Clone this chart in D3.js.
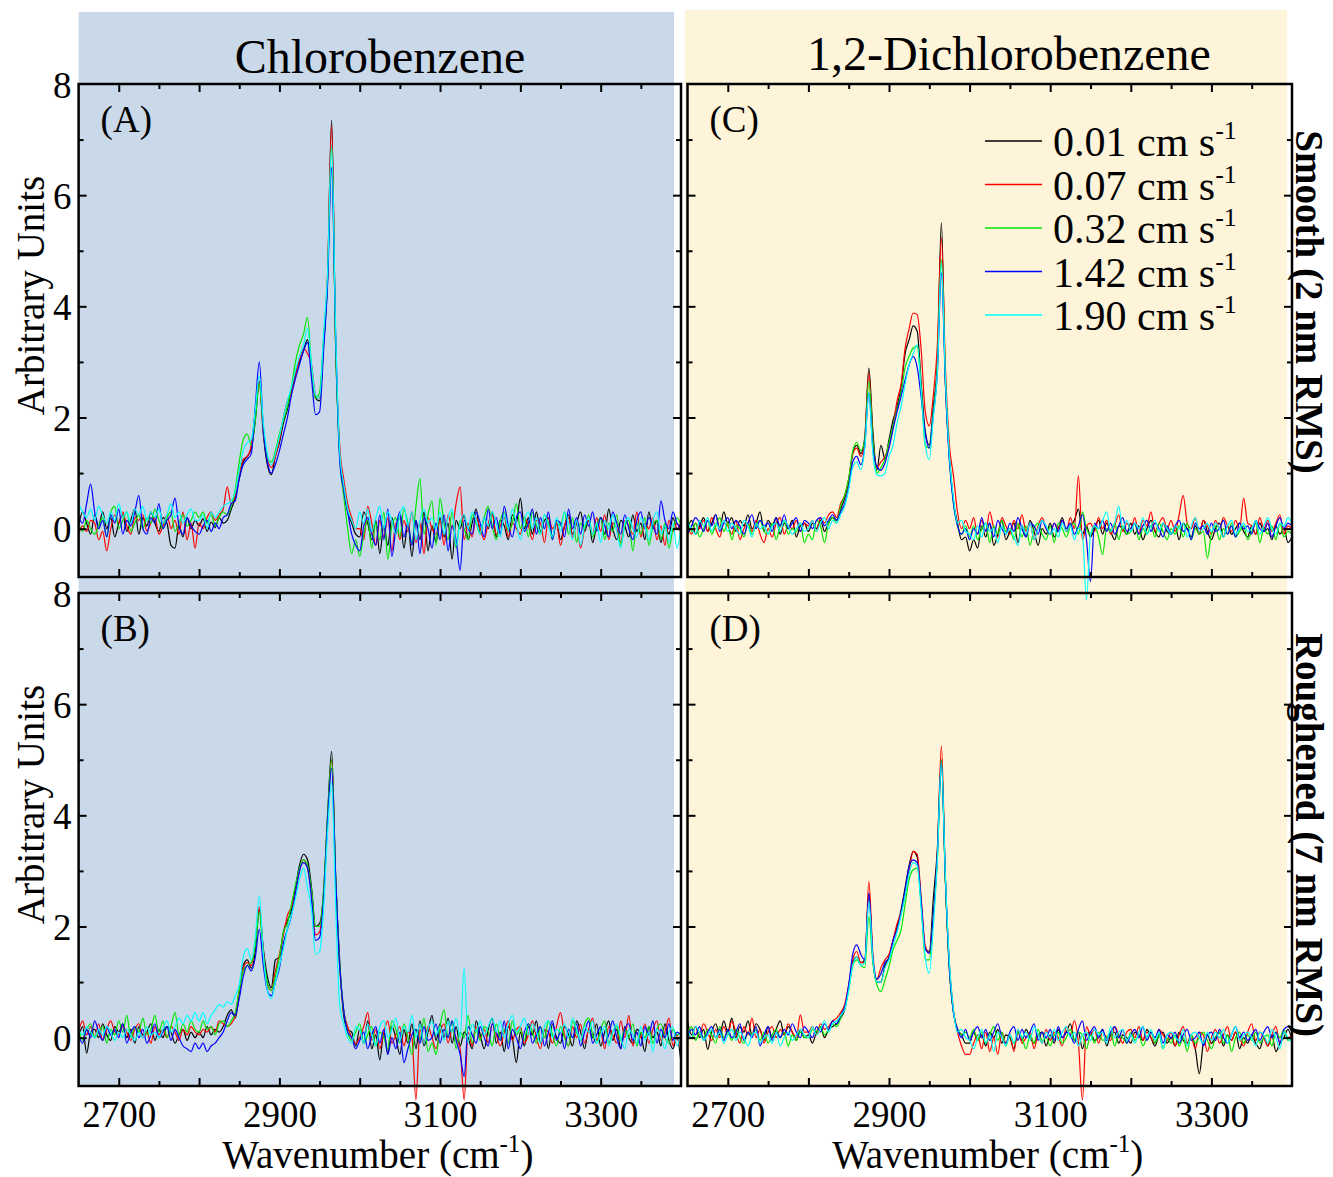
<!DOCTYPE html>
<html>
<head>
<meta charset="utf-8">
<script src="https://cdn.jsdelivr.net/npm/d3@7"></script>
<style>
  body { margin: 0; background: #fff; }
  svg { display: block; }
  text { font-family: "Liberation Serif", "Times New Roman", serif; fill: #000; }
</style>
</head>
<body>
<svg id="fig" width="1333" height="1177"></svg>
<script>
// Sampling grid of the spectra (cm^-1)
const wavenumber = d3.range(2650, 3400.1, 5);

const speedLabels = ["0.01", "0.07", "0.32", "1.42", "1.90"];
const seriesColors = ["#000000", "#ff0000", "#00e600", "#0000ff", "#00ffff"];
const xTickLabels = [2700, 2900, 3100, 3300];
const yTickLabels = [0, 2, 4, 6, 8];
const molecules = ["Chlorobenzene", "1,2-Dichlorobenzene"];
const surfaces = ["Smooth (2 nm RMS)", "Roughened (7 nm RMS)"];
const panelLetters = ["(A)", "(B)", "(C)", "(D)"];

// ---- Chlorobenzene, smooth surface (A) ----
const A_001 = [0.05,0.3,0.1,-0.1,0.25,0.05,0.3,0.0,0.2,-0.15,
0.1,0.25,-0.05,0.15,0.35,-0.1,0.2,0.05,0.3,0.1,
-0.05,0.2,0.1,-0.3,-0.35,0.05,-0.15,0.2,0.0,0.15,
0.05,0.18,-0.05,0.12,0.02,0.2,0.1,0.15,0.35,0.55,
0.9,1.2,1.3,1.45,1.95,2.65,1.7,1.15,0.97,1.3,
1.55,1.9,2.15,2.5,2.8,3.0,3.2,3.4,2.85,2.35,
2.3,3.3,4.5,7.35,3.3,1.4,0.7,0.3,0.1,-0.1,
-0.15,0.3,0.1,-0.2,0.15,-0.45,0.05,-0.3,0.2,-0.1,
0.25,-0.35,0.1,-0.5,0.15,-0.2,0.3,-0.4,0.05,-0.25,
0.2,-0.15,0.1,-0.55,0.15,0.0,0.25,-0.2,0.1,0.35,
-0.1,0.2,0.0,0.3,-0.15,0.15,0.05,-0.2,0.25,0.1,
0.55,0.0,0.2,-0.1,0.3,-0.05,0.15,0.2,-0.15,0.1,
-0.2,0.05,0.25,-0.1,0.1,0.3,-0.05,0.15,-0.25,0.05,
0.2,-0.1,0.35,0.0,-0.2,0.15,0.05,-0.15,0.25,-0.05,
0.1,-0.2,0.3,0.0,0.15,-0.25,0.05,-0.1,0.2,0.0,
0.1];
const A_007 = [-0.1,0.05,-0.05,0.15,0.1,-0.2,-0.05,-0.4,0.0,0.25,
0.1,0.3,0.05,-0.1,0.2,0.15,0.25,-0.05,0.1,0.2,
-0.1,0.05,0.25,0.0,0.15,-0.1,0.3,-0.2,0.1,-0.35,
0.1,0.0,0.2,0.3,0.15,0.25,0.35,0.75,0.45,0.6,
1.0,1.25,1.3,1.5,2.1,2.6,1.75,1.25,1.1,1.3,
1.6,2.0,2.3,2.45,2.75,3.05,3.25,3.15,2.95,2.4,
2.35,3.4,4.6,7.25,3.4,1.5,0.9,0.45,0.2,0.0,
0.0,-0.2,0.4,0.1,-0.3,0.15,-0.15,0.2,-0.4,0.1,
-0.2,0.15,-0.05,0.3,-0.25,0.1,-0.45,0.2,0.0,-0.1,
0.15,-0.3,0.25,0.0,0.45,0.75,-0.2,0.1,-0.15,0.2,
0.0,-0.2,0.1,0.25,-0.1,0.05,0.2,-0.15,0.1,0.0,
-0.1,0.2,0.05,-0.2,0.15,0.1,-0.25,0.2,0.0,0.1,
-0.3,0.05,0.2,-0.15,0.1,-0.35,0.0,0.15,-0.1,0.2,
-0.05,0.25,-0.2,0.1,0.0,-0.25,0.15,0.05,-0.1,0.3,
-0.15,0.1,0.0,0.2,-0.2,0.05,-0.3,0.15,-0.05,0.1,
-0.1];
const A_032 = [0.1,-0.05,0.15,0.0,-0.1,0.05,0.2,-0.15,0.3,0.4,
0.0,0.15,0.3,-0.05,0.1,0.25,0.0,0.2,0.1,0.35,
0.15,0.0,0.2,0.3,-0.05,0.1,0.25,0.05,0.15,0.3,
0.2,0.3,0.1,0.25,0.05,0.2,0.3,0.25,0.4,0.7,
1.2,1.6,1.7,1.5,1.95,2.6,1.8,1.3,1.2,1.4,
1.7,1.95,2.2,2.55,3.0,3.3,3.5,3.8,2.9,2.35,
2.45,3.4,4.5,6.9,3.3,1.3,0.6,0.0,-0.45,-0.2,
-0.5,-0.1,0.15,-0.35,0.1,-0.2,0.3,-0.55,0.05,0.2,
-0.15,0.35,0.1,-0.25,0.4,0.9,-0.1,0.25,0.5,-0.3,
0.55,0.1,-0.2,0.3,-0.35,0.15,0.0,-0.2,0.25,0.1,
-0.1,0.2,0.4,0.05,-0.2,0.15,0.3,-0.05,0.1,0.45,
0.0,0.2,-0.15,0.3,0.05,-0.1,0.25,0.1,-0.2,0.15,
0.05,0.3,-0.1,0.2,-0.25,0.1,0.0,0.25,-0.15,0.05,
0.2,-0.2,0.1,-0.05,0.25,-0.3,0.05,0.15,-0.4,0.1,
-0.1,0.2,-0.3,0.05,0.15,-0.2,0.1,-0.35,0.0,0.2,
0.05];
const A_142 = [0.2,0.1,0.45,0.8,0.3,0.0,0.15,-0.15,0.25,0.1,
0.35,-0.1,0.15,0.05,0.3,0.6,0.0,-0.1,0.2,0.1,
0.45,0.0,0.15,0.25,0.55,0.05,-0.1,0.2,0.05,-0.05,
-0.1,0.05,0.15,-0.05,0.1,0.0,0.2,0.25,0.45,0.5,
0.9,1.15,1.25,1.35,2.2,3.0,1.8,1.2,1.0,1.15,
1.4,1.7,2.0,2.4,2.7,2.95,3.2,3.35,2.7,2.05,
2.1,3.2,4.4,6.5,3.5,1.25,0.7,0.3,-0.1,-0.3,
-0.4,0.05,0.2,-0.1,-0.3,0.25,-0.2,0.35,-0.5,0.0,
0.3,-0.15,0.1,-0.3,0.15,-0.45,0.2,0.0,-0.35,0.1,
-0.2,0.25,-0.4,0.05,-0.2,-0.75,0.15,0.0,-0.1,0.3,
0.1,-0.15,0.35,0.0,0.2,-0.1,0.4,0.05,-0.15,0.2,
0.3,-0.05,0.1,0.35,-0.1,0.2,0.0,0.3,-0.2,0.15,
0.1,-0.15,0.35,0.0,0.2,-0.1,0.25,0.05,0.3,-0.05,
0.2,0.05,-0.15,0.3,0.1,-0.1,0.25,0.0,-0.2,0.15,
0.3,0.0,0.2,0.05,-0.1,0.5,0.15,0.0,0.3,0.1,
0.0];
const A_190 = [0.45,0.3,0.2,0.35,0.15,0.4,0.25,0.1,0.3,0.15,
0.45,0.2,0.3,0.1,0.35,0.25,0.4,0.15,0.3,0.2,
0.35,0.1,0.25,0.45,0.2,0.3,0.1,0.25,0.35,0.15,
0.15,0.25,0.0,0.3,0.2,0.3,0.4,0.45,0.5,0.65,
1.05,1.4,1.55,1.6,2.15,2.75,1.9,1.35,1.15,1.35,
1.65,2.0,2.3,2.55,2.85,3.1,3.3,3.6,2.95,2.4,
2.35,3.5,4.6,6.9,3.6,1.4,0.8,0.35,0.15,0.0,
0.3,0.1,0.35,-0.05,0.2,0.4,0.0,0.3,0.15,-0.1,
0.25,0.4,0.05,0.3,-0.2,0.15,0.35,0.1,0.2,0.0,
0.3,-0.1,0.2,0.35,-0.3,0.1,0.25,0.0,0.3,0.15,
-0.1,0.2,0.05,0.3,0.1,-0.15,0.25,0.0,0.35,0.1,
-0.2,0.15,0.3,0.0,0.2,-0.1,0.25,0.05,-0.15,0.2,
-0.05,0.3,0.1,-0.2,0.15,-0.3,0.05,0.2,-0.1,0.1,
-0.25,0.15,0.0,0.25,-0.05,-0.35,0.1,0.2,0.0,-0.15,
0.2,0.05,-0.2,0.15,0.3,-0.1,0.05,-0.25,0.1,-0.35,
0.05];

// ---- Chlorobenzene, roughened surface (B) ----
const B_001 = [0.0,0.2,-0.28,0.1,0.15,0.0,0.25,0.05,-0.05,0.2,
0.1,0.25,0.0,0.15,-0.1,0.2,0.05,0.1,0.25,-0.05,
0.15,0.0,0.2,0.1,-0.1,0.05,0.15,-0.05,0.1,0.0,
0.1,0.0,0.2,0.05,0.15,0.1,0.2,0.4,0.5,0.35,
0.8,1.3,1.4,1.25,1.55,2.3,1.6,1.1,0.9,1.4,
1.45,1.9,2.1,2.3,2.7,3.1,3.3,3.2,2.7,2.0,
2.05,2.6,4.0,5.15,2.9,1.4,0.4,0.15,0.1,-0.15,
0.15,-0.1,0.3,-0.2,0.05,-0.4,0.1,-0.3,0.2,0.0,
-0.3,0.15,-0.1,0.25,-0.2,0.3,-0.15,0.1,0.4,-0.05,
0.25,0.0,0.35,-0.1,0.2,-0.15,0.1,0.0,-0.2,0.3,
0.05,-0.2,0.15,0.35,-0.1,0.1,-0.25,0.2,0.0,-0.45,
0.1,-0.15,0.2,0.05,0.3,-0.1,0.15,-0.2,0.25,0.0,
-0.1,0.2,0.05,-0.15,0.3,0.1,-0.2,0.15,0.0,0.25,
-0.15,0.1,0.3,-0.05,0.15,-0.2,0.2,0.0,-0.1,0.15,
0.05,-0.25,0.2,0.0,0.1,-0.15,0.25,-0.05,-0.2,0.0,
-0.45];
const B_007 = [0.1,0.3,0.05,0.2,0.0,0.25,-0.05,0.15,0.3,0.1,
0.05,0.2,0.1,-0.05,0.15,0.25,0.0,0.1,-0.1,0.2,
0.05,0.15,0.0,0.2,0.1,-0.05,0.15,0.05,0.2,0.1,
0.05,0.15,0.1,0.2,0.1,0.3,0.25,0.2,0.25,0.4,
0.85,1.25,1.35,1.3,1.7,2.35,1.55,0.95,0.85,1.2,
1.5,1.85,2.2,2.35,2.6,3.0,3.2,3.05,2.6,1.85,
1.9,2.6,3.9,5.0,2.9,1.3,0.5,0.2,0.0,-0.1,
0.0,0.2,0.45,-0.05,0.15,-0.2,0.1,0.3,-0.1,0.05,
0.2,-0.15,0.1,0.0,-1.12,0.15,-0.1,0.2,0.0,-0.2,
0.1,0.25,-0.1,0.15,0.0,-0.2,-1.12,0.1,-0.15,0.2,
0.0,0.15,-0.1,0.25,0.05,-0.15,0.1,0.3,-0.05,0.15,
0.2,-0.1,0.05,0.3,0.0,-0.2,0.15,0.1,-0.1,0.2,
0.45,0.05,-0.15,0.2,0.0,0.25,-0.1,0.15,0.35,-0.05,
0.1,-0.2,0.2,0.05,-0.1,0.3,0.0,0.4,-0.15,0.1,
0.0,0.25,-0.1,0.15,0.3,-0.05,0.1,0.35,-0.15,0.05,
-0.2];
const B_032 = [0.2,-0.05,0.15,0.25,0.0,0.1,0.2,-0.1,0.15,0.05,
0.3,0.1,0.4,0.0,0.2,0.1,0.35,0.05,0.15,0.4,
0.1,0.3,0.0,0.2,0.45,0.05,0.25,0.1,0.3,0.15,
0.1,0.3,0.15,0.2,0.05,0.25,0.3,0.2,0.3,0.45,
0.85,1.2,1.3,1.35,1.65,2.25,1.5,1.0,0.85,1.1,
1.45,1.9,2.05,2.4,2.75,3.05,3.2,3.1,2.65,2.0,
2.0,2.65,4.0,5.0,2.95,1.35,0.5,0.1,-0.05,0.1,
0.25,-0.1,0.05,0.2,-0.15,0.1,0.0,-0.2,0.3,0.15,
-0.1,0.25,0.0,-0.3,0.15,-0.05,0.35,-0.25,-0.1,-0.3,
0.2,0.5,0.0,0.3,-0.2,0.1,0.0,0.4,-0.1,0.15,
-0.05,0.2,0.1,-0.15,0.25,0.0,0.15,-0.1,0.3,0.05,
0.15,-0.05,0.25,0.1,-0.1,0.2,0.0,0.3,0.05,-0.15,
0.2,0.0,-0.15,0.3,0.1,-0.05,0.25,0.35,0.05,-0.1,
0.15,0.3,-0.1,0.1,0.2,-0.05,0.15,0.0,0.25,-0.15,
0.1,0.0,0.2,-0.1,0.15,0.25,0.0,-0.1,0.15,0.05,
0.1];
const B_142 = [0.05,-0.1,0.15,0.0,0.3,0.1,-0.05,0.2,0.05,0.15,
0.0,0.25,-0.1,0.1,0.2,0.0,0.15,-0.1,0.05,0.25,
0.0,0.1,0.2,-0.05,0.15,0.0,-0.15,-0.2,-0.25,-0.1,
-0.2,-0.1,-0.25,-0.15,-0.1,0.0,0.1,0.3,0.45,0.4,
0.7,1.1,1.3,1.2,1.45,1.95,1.3,0.85,0.75,1.0,
1.25,1.7,1.95,2.2,2.6,3.0,3.15,3.05,2.5,1.75,
1.8,2.5,3.9,4.85,2.9,1.3,0.5,0.1,0.0,-0.2,
-0.05,0.1,-0.2,0.05,0.2,-0.1,0.15,-0.3,0.0,-0.2,
0.1,-0.45,-0.2,0.05,0.15,-0.1,0.2,-0.05,0.0,0.25,
-0.1,0.15,0.0,0.3,-0.05,-0.3,-0.7,0.2,0.05,-0.1,
0.2,0.0,-0.15,0.25,0.1,-0.05,0.3,-0.2,0.15,0.0,
-0.2,0.1,0.25,-0.1,0.05,0.2,-0.15,0.1,0.3,-0.05,
0.1,-0.2,0.15,0.0,0.25,-0.15,0.1,0.3,-0.1,0.05,
0.2,-0.1,0.05,0.3,0.0,-0.2,0.15,0.25,-0.05,0.1,
-0.15,0.2,0.05,0.3,-0.1,0.15,0.0,0.25,-0.05,0.1,
0.05];
const B_190 = [0.15,0.05,0.2,0.1,0.0,0.15,0.05,0.2,0.1,-0.05,
0.1,0.0,0.15,0.05,-0.05,0.1,0.0,0.2,0.05,0.1,
0.0,0.15,0.3,0.1,0.2,0.35,0.25,0.4,0.3,0.45,
0.3,0.45,0.25,0.4,0.5,0.6,0.55,0.65,0.6,0.75,
0.95,1.45,1.6,1.4,1.8,2.55,1.5,0.85,0.7,1.0,
1.3,1.6,1.95,2.2,2.5,2.85,3.05,2.7,2.3,1.5,
1.55,2.3,3.7,4.6,2.4,0.6,0.25,0.0,-0.1,0.2,
0.15,-0.1,0.25,0.05,-0.15,0.2,0.3,0.0,0.15,0.35,
-0.05,0.2,0.1,0.4,0.0,0.25,-0.1,0.15,0.3,0.05,
0.2,-0.05,0.3,0.1,0.35,0.0,1.25,-0.1,0.25,0.1,
0.3,0.05,0.2,0.35,0.1,0.3,0.0,0.25,0.4,0.1,
0.2,0.35,0.05,0.25,0.1,-0.1,0.2,0.3,0.0,0.15,
0.1,0.25,0.0,0.35,0.15,-0.05,0.2,0.1,0.3,-0.1,
0.05,0.2,-0.15,0.1,0.25,0.0,-0.2,0.15,0.05,-0.1,
0.2,-0.05,0.1,-0.25,0.15,0.05,-0.2,0.1,0.2,-0.15,
0.1];

// ---- 1,2-Dichlorobenzene, smooth surface (C) ----
const C_001 = [0.0,0.15,-0.1,0.05,0.2,-0.05,0.1,0.25,0.0,0.3,
0.1,0.2,-0.05,0.15,0.05,0.25,0.0,0.1,0.3,-0.05,
0.15,0.05,0.2,-0.1,0.1,0.0,0.15,-0.15,0.05,0.1,
-0.05,0.1,0.0,0.15,-0.05,0.1,0.2,0.15,0.35,0.55,
0.85,1.35,1.5,1.35,1.65,2.89,1.75,1.05,1.5,1.25,
1.6,1.95,2.2,2.55,3.15,3.4,3.65,3.55,2.6,1.75,
1.5,2.2,3.0,5.5,2.6,1.3,0.5,0.1,-0.2,-0.15,
-0.4,-0.2,-0.35,0.05,-0.15,0.1,-0.3,-0.1,0.15,-0.2,
-0.05,0.1,-0.25,0.05,-0.15,0.15,-0.05,-0.3,0.0,-0.1,
0.1,-0.15,0.0,0.2,-0.05,0.05,0.15,0.35,-0.1,0.05,
-0.15,0.0,0.15,-0.1,0.1,-0.05,-0.2,0.05,0.0,-0.1,
0.1,-0.1,0.05,-0.2,0.0,0.15,-0.05,-0.15,0.1,-0.05,
-0.1,0.05,-0.2,0.1,0.0,-0.15,0.05,-0.1,0.15,-0.05,
-0.2,0.0,0.1,-0.15,0.05,-0.1,0.0,0.1,-0.05,-0.15,
0.05,-0.1,0.1,-0.05,0.0,-0.2,0.05,-0.1,0.0,-0.25,
-0.15];
const C_007 = [0.05,-0.1,0.1,0.0,0.15,-0.05,0.2,0.0,-0.15,0.1,
0.05,-0.1,0.15,-0.2,0.0,0.1,-0.05,0.15,-0.1,-0.25,
0.0,-0.15,0.1,0.2,-0.1,0.05,0.0,0.15,-0.05,0.1,
0.05,0.15,-0.05,0.2,0.1,0.25,0.3,0.2,0.45,0.6,
0.9,1.35,1.45,1.3,1.6,2.8,1.6,1.1,1.2,1.3,
1.5,1.85,2.3,2.6,3.25,3.6,3.88,3.85,3.2,2.1,
1.85,2.4,3.3,5.23,2.9,1.5,0.95,0.3,0.0,0.15,
0.0,0.2,-0.1,0.15,-0.05,0.3,0.0,-0.15,0.2,0.05,
-0.1,0.15,0.0,0.25,-0.05,0.1,-0.2,0.05,0.2,0.0,
-0.1,0.1,0.0,0.15,-0.05,0.2,0.0,0.95,-0.2,0.05,
0.1,-0.05,0.2,0.0,0.15,-0.1,0.05,0.25,-0.05,0.1,
0.0,0.2,-0.1,0.15,0.05,0.3,-0.05,0.1,0.2,0.0,
0.15,-0.05,0.25,0.6,0.1,0.0,0.2,-0.1,0.15,0.05,
-0.1,0.15,0.0,0.2,0.05,-0.05,0.15,0.0,0.55,0.1,
0.05,-0.1,0.2,0.0,0.15,-0.05,0.1,0.25,-0.1,0.05,
0.0];
const C_032 = [0.2,-0.05,0.1,-0.15,0.0,0.15,-0.1,0.05,0.2,-0.05,
0.1,-0.2,0.05,0.0,-0.15,0.1,-0.1,0.05,0.15,-0.05,
-0.1,0.1,-0.2,0.05,0.15,-0.1,0.0,-0.05,0.1,-0.25,
-0.1,-0.2,0.15,0.05,-0.25,0.1,0.2,0.1,0.4,0.6,
0.9,1.4,1.55,1.4,1.6,2.65,1.6,1.0,1.1,1.25,
1.55,1.85,2.15,2.45,2.9,3.1,3.25,3.28,2.5,1.5,
1.45,2.1,2.9,4.84,2.7,1.25,0.45,0.05,-0.1,0.05,
-0.15,0.05,-0.2,0.0,0.1,-0.25,0.05,-0.1,0.15,-0.05,
0.0,-0.2,0.1,-0.15,0.05,-0.3,0.0,0.1,-0.1,-0.2,
0.05,-0.25,0.1,0.0,-0.15,0.05,0.1,-0.1,0.3,0.0,
-0.1,0.05,-0.15,-0.47,0.0,-0.05,0.1,-0.2,0.05,-0.1,
-0.05,0.1,-0.2,0.0,-0.1,0.05,-0.15,0.1,-0.05,-0.2,
0.0,-0.1,0.05,-0.15,0.1,-0.2,0.0,-0.1,-0.05,-0.53,
-0.1,0.05,-0.2,0.0,-0.1,0.1,-0.15,-0.05,0.05,-0.2,
-0.05,0.1,-0.25,0.0,-0.1,0.05,-0.2,0.1,-0.15,-0.05,
-0.1];
const C_142 = [-0.1,0.05,0.2,0.1,-0.05,0.15,0.05,0.25,-0.05,0.1,
0.2,0.0,0.15,0.05,-0.1,0.1,0.25,0.0,0.15,0.05,
0.1,-0.05,0.2,0.05,0.25,0.0,0.1,0.2,-0.05,0.15,
0.1,0.0,0.15,0.2,0.05,0.15,0.25,0.15,0.3,0.45,
0.75,1.2,1.3,1.15,1.5,2.44,1.45,1.12,1.05,1.18,
1.45,1.78,2.1,2.38,2.68,2.95,3.1,2.9,2.35,1.7,
1.45,2.05,2.8,4.6,2.6,1.2,0.45,0.05,-0.1,0.0,
-0.2,0.0,-0.1,0.2,-0.05,0.1,-0.15,0.15,0.0,-0.1,
0.1,-0.05,0.2,0.0,-0.15,0.1,0.05,-0.1,0.15,0.0,
-0.1,0.1,-0.05,0.15,0.0,0.1,-0.1,0.05,0.25,-0.2,
-0.95,0.1,0.0,0.15,-0.05,0.1,-0.1,0.05,0.2,-0.05,
0.0,0.1,-0.1,0.05,0.15,-0.05,0.1,0.0,-0.15,0.05,
-0.1,0.05,0.15,-0.05,0.0,-0.2,0.1,0.0,0.05,-0.1,
0.1,-0.05,0.0,0.15,-0.1,0.05,-0.15,0.1,0.0,0.05,
-0.1,0.15,0.0,-0.05,0.1,-0.15,0.05,0.2,0.0,0.1,
0.05];
const C_190 = [0.1,0.0,-0.1,0.15,0.05,0.2,-0.05,0.1,0.0,0.15,
-0.05,0.1,0.0,-0.1,0.15,0.05,-0.15,0.1,0.0,0.05,
-0.1,0.05,0.1,-0.05,0.15,0.05,-0.1,0.0,0.1,-0.05,
0.0,0.15,-0.05,0.1,0.2,0.0,0.15,0.1,0.25,0.4,
0.7,1.1,1.2,1.06,1.45,2.44,1.35,0.97,0.95,1.0,
1.3,1.5,1.9,2.2,2.6,2.95,3.15,3.31,2.45,1.5,
1.24,2.0,2.8,4.78,2.7,1.3,0.55,0.1,0.15,-0.05,
-0.1,-0.2,0.05,-0.15,0.1,-0.05,0.0,-0.25,0.05,-0.1,
0.0,-0.15,-0.3,0.05,-0.1,0.1,-0.2,0.0,0.15,0.05,
-0.1,0.0,-0.15,0.1,-0.05,0.05,-0.2,0.0,-0.1,-1.28,
-0.1,0.05,0.0,0.15,0.3,-0.05,0.1,0.4,0.0,0.15,
-0.05,0.1,0.0,0.2,-0.1,0.05,0.15,-0.05,0.1,0.0,
-0.1,0.05,0.0,0.1,-0.15,0.05,0.2,-0.05,0.0,0.1,
-0.05,0.1,0.0,-0.15,0.05,0.15,-0.1,0.0,0.1,-0.05,
0.0,0.15,-0.1,0.05,0.2,0.0,-0.1,0.1,0.05,0.2,
0.1];

// ---- 1,2-Dichlorobenzene, roughened surface (D) ----
const D_001 = [0.3,0.05,0.2,0.0,0.15,-0.21,0.1,0.25,0.05,0.3,
0.1,0.35,0.0,0.2,0.1,0.3,0.05,0.25,0.15,-0.05,
0.2,0.0,0.15,0.3,0.05,0.2,0.1,-0.05,0.15,0.0,
0.05,-0.1,0.1,0.2,0.0,0.15,0.2,0.25,0.35,0.5,
0.9,1.35,1.45,1.35,1.4,2.6,1.4,1.0,1.0,1.3,
1.45,1.75,2.0,2.3,2.7,3.1,3.35,3.25,2.4,1.6,
1.55,2.5,3.4,5.0,2.8,1.2,0.45,0.15,0.05,-0.1,
-0.1,0.1,-0.05,0.05,-0.15,0.1,0.0,0.15,-0.1,0.05,
0.0,-0.2,0.1,-0.05,0.15,0.0,-0.1,0.05,0.1,-0.15,
0.05,-0.1,0.15,0.0,0.1,0.25,-0.05,0.1,-0.2,0.05,
0.1,-0.05,0.0,0.15,-0.15,0.05,0.1,-0.1,0.05,0.0,
-0.1,0.1,0.05,-0.05,0.15,0.0,-0.15,0.05,0.1,-0.1,
0.0,-0.15,0.1,-0.05,-0.1,0.05,-0.2,-0.65,-0.1,0.05,
-0.1,0.0,0.1,-0.15,0.05,-0.05,0.1,-0.2,0.0,-0.1,
0.05,-0.1,-0.2,0.0,-0.15,0.05,-0.25,-0.1,0.0,0.15,
-0.05];
const D_007 = [0.1,0.0,0.2,0.05,0.25,0.1,-0.05,0.15,0.0,0.2,
0.05,0.3,0.1,-0.1,0.2,0.05,0.35,0.0,0.15,-0.1,
0.1,0.2,0.0,0.15,0.05,0.25,0.1,0.0,0.41,0.1,
0.1,0.2,0.05,0.25,0.15,0.2,0.3,0.35,0.45,0.6,
0.95,1.4,1.55,1.35,1.35,2.81,1.5,1.05,1.26,1.4,
1.5,1.75,2.05,2.25,2.6,3.0,3.35,3.3,2.5,1.65,
1.52,2.2,3.3,5.25,2.85,1.3,0.5,0.1,-0.15,-0.3,
-0.3,-0.1,0.05,-0.2,0.1,-0.25,0.0,-0.3,0.1,-0.1,
0.05,-0.25,0.15,-0.1,0.0,0.1,-0.2,0.05,-0.1,0.15,
-0.05,0.1,0.0,-0.15,0.2,0.05,0.3,-0.1,-1.12,0.2,
0.05,0.15,-0.1,0.1,0.0,-0.05,0.2,0.05,-0.1,0.1,
0.15,0.0,0.2,-0.05,0.1,0.0,-0.1,0.15,0.05,-0.05,
0.1,-0.15,0.05,0.2,-0.1,0.0,-0.2,0.1,0.05,-0.25,
0.0,0.15,-0.1,0.05,0.2,-0.05,0.1,0.0,-0.15,0.1,
0.25,-0.05,0.1,0.0,-0.15,0.05,0.2,-0.1,0.1,0.0,
0.05];
const D_032 = [0.05,0.2,-0.05,0.1,0.0,0.15,0.05,-0.1,0.2,0.0,
0.1,-0.05,0.15,0.0,-0.1,0.1,0.05,0.15,-0.05,0.1,
-0.1,0.05,0.15,0.0,0.1,-0.15,0.05,-0.05,0.1,0.0,
0.0,0.15,0.1,0.2,0.05,0.15,0.25,0.2,0.35,0.55,
0.85,1.3,1.4,1.3,1.26,2.18,1.35,0.95,0.83,1.04,
1.28,1.58,1.75,1.94,2.4,2.85,3.02,3.05,2.4,1.4,
1.4,2.2,3.2,5.0,2.8,1.25,0.45,0.15,0.05,0.1,
0.0,0.15,-0.05,0.1,-0.1,0.05,0.2,-0.05,0.1,-0.15,
0.05,-0.1,0.1,0.0,-0.2,0.05,-0.1,0.15,-0.05,0.0,
-0.15,0.05,0.1,-0.1,0.0,0.15,-0.05,0.1,0.05,-0.2,
0.05,-0.1,0.1,-0.05,0.0,0.1,-0.15,0.05,0.0,-0.1,
0.1,-0.05,0.05,-0.15,0.0,0.1,-0.1,0.05,-0.2,0.0,
-0.1,0.05,-0.15,0.0,-0.25,0.05,-0.1,0.0,0.1,-0.05,
-0.2,0.0,0.1,-0.1,0.05,-0.25,0.0,0.1,-0.1,0.05,
-0.05,0.1,-0.1,0.0,0.05,-0.15,0.1,0.0,0.15,-0.05,
0.0];
const D_142 = [0.0,0.15,0.05,0.2,-0.05,0.1,0.2,0.0,0.15,-0.05,
0.15,0.0,0.1,0.25,-0.05,0.1,0.0,0.2,-0.15,0.05,
0.2,-0.05,0.1,0.0,0.15,0.05,0.25,0.1,0.0,0.2,
0.1,0.0,0.2,0.1,0.25,0.15,0.3,0.25,0.4,0.55,
0.95,1.5,1.67,1.5,1.4,2.6,1.45,1.05,1.15,1.35,
1.43,1.75,1.94,2.25,2.65,3.08,3.2,3.15,2.45,1.6,
1.52,2.2,3.3,4.95,2.85,1.25,0.45,0.15,0.0,0.15,
-0.05,0.1,0.2,0.0,0.15,-0.05,0.1,0.25,0.0,-0.1,
0.1,0.2,-0.05,0.15,0.0,0.1,0.25,-0.05,0.1,0.0,
0.15,-0.05,0.2,0.0,0.1,0.05,-0.1,0.15,0.3,-0.05,
0.1,0.2,0.0,0.15,-0.05,0.1,0.2,0.0,0.15,-0.1,
0.05,0.15,0.0,0.2,-0.05,0.1,0.0,0.15,-0.1,0.05,
0.0,0.1,-0.1,0.05,0.15,-0.05,0.0,0.1,-0.15,0.05,
0.1,-0.05,0.15,0.0,-0.1,0.05,0.2,0.0,0.1,-0.05,
0.05,0.15,-0.05,0.1,0.2,0.0,0.1,-0.1,0.15,0.2,
0.1];
const D_190 = [0.15,0.0,0.2,0.1,-0.05,0.05,0.15,0.0,0.1,-0.1,
0.05,0.15,-0.05,0.1,0.0,-0.15,0.05,0.1,-0.1,0.0,
0.05,-0.1,0.1,-0.15,0.0,0.1,-0.05,0.05,0.15,0.05,
0.0,0.2,0.05,0.15,0.3,0.1,0.25,0.3,0.4,0.5,
0.85,1.3,1.45,1.3,1.35,2.45,1.4,1.0,1.0,1.25,
1.4,1.65,1.9,2.2,2.55,2.95,3.15,3.1,2.3,1.45,
1.16,2.0,3.2,4.95,2.9,1.35,0.5,0.1,0.15,0.0,
-0.05,-0.2,0.0,0.15,-0.1,0.05,-0.25,0.1,0.0,-0.15,
0.05,-0.1,0.15,0.0,0.1,-0.05,0.2,0.05,-0.1,0.1,
0.0,0.15,-0.05,0.1,0.2,0.0,0.1,-0.15,0.05,0.1,
-0.05,0.15,0.05,0.1,-0.1,0.2,0.0,0.1,0.15,-0.05,
0.05,-0.1,0.1,0.2,0.0,0.15,-0.05,0.1,-0.2,0.05,
0.1,0.0,-0.05,0.15,-0.15,0.05,0.1,0.0,-0.1,0.1,
-0.05,0.1,0.0,0.15,-0.1,0.05,0.2,-0.05,0.05,0.1,
0.0,-0.15,0.1,0.05,-0.1,0.15,0.0,-0.2,0.1,0.0,
-0.1];

const svg = d3.select("#fig");
svg.append("rect").attr("width", 1333).attr("height", 1177).attr("fill", "#ffffff");

// Column backgrounds
svg.append("rect").attr("x", 78.6).attr("y", 12).attr("width", 595.4).attr("height", 1074).attr("fill", "#c9d9e9");
svg.append("rect").attr("x", 685).attr("y", 10).attr("width", 602).attr("height", 1076).attr("fill", "#fef4da");

const columns = [{ x0: 78.6, x1: 681 }, { x0: 687.5, x1: 1292 }];
const rowsY = [{ y0: 84, y1: 577 }, { y0: 593, y1: 1086 }];

const panels = [
  { col: 0, row: 0, series: [A_001, A_007, A_032, A_142, A_190] },
  { col: 0, row: 1, series: [B_001, B_007, B_032, B_142, B_190] },
  { col: 1, row: 0, series: [C_001, C_007, C_032, C_142, C_190] },
  { col: 1, row: 1, series: [D_001, D_007, D_032, D_142, D_190] }
];

const majorX = d3.range(2700, 3301, 100);
const minorX = d3.range(2750, 3351, 100);
const majorY = [0, 2, 4, 6];
const minorY = [1, 3, 5, 7];
const serif = '"Liberation Serif", "Times New Roman", serif';

function styleAxis(g) {
  g.select(".domain").remove();
  g.selectAll(".tick line").attr("stroke", "#000").attr("stroke-width", 2);
}

panels.forEach((p, pi) => {
  const c = columns[p.col], r = rowsY[p.row];
  const x = d3.scaleLinear().domain([2650, 3400]).range([c.x0, c.x1]);
  const y = d3.scaleLinear().domain([-0.87, 8]).range([r.y1, r.y0]);
  const g = svg.append("g");

  const line = d3.line()
    .x((d, i) => x(wavenumber[i]))
    .y(d => y(d))
    .curve(d3.curveMonotoneX);

  p.series.forEach((s, k) => {
    g.append("path").attr("d", line(s))
      .attr("fill", "none").attr("stroke", seriesColors[k])
      .attr("stroke-width", 1.2).attr("stroke-linejoin", "round");
  });

  // inward ticks on all four sides
  [[majorX, 8], [minorX, 5]].forEach(([vals, len]) => {
    g.append("g").attr("transform", `translate(0,${r.y1})`)
      .call(d3.axisBottom(x).tickValues(vals).tickSize(-len).tickFormat("")).call(styleAxis);
    g.append("g").attr("transform", `translate(0,${r.y0})`)
      .call(d3.axisTop(x).tickValues(vals).tickSize(-len).tickFormat("")).call(styleAxis);
  });
  [[majorY, 8], [minorY, 5]].forEach(([vals, len]) => {
    g.append("g").attr("transform", `translate(${c.x0},0)`)
      .call(d3.axisLeft(y).tickValues(vals).tickSize(-len).tickFormat("")).call(styleAxis);
    g.append("g").attr("transform", `translate(${c.x1},0)`)
      .call(d3.axisRight(y).tickValues(vals).tickSize(-len).tickFormat("")).call(styleAxis);
  });

  // frame
  g.append("rect").attr("x", c.x0).attr("y", r.y0)
    .attr("width", c.x1 - c.x0).attr("height", r.y1 - r.y0)
    .attr("fill", "none").attr("stroke", "#000").attr("stroke-width", 2.5);

  // tick labels
  if (p.col === 0) {
    const ya = g.append("g").attr("transform", `translate(${c.x0},0)`)
      .call(d3.axisLeft(y).tickValues(yTickLabels).tickSize(0).tickPadding(7).tickFormat(d3.format("d")));
    ya.select(".domain").remove();
    ya.attr("font-size", 37).attr("font-family", serif);
    ya.selectAll("text").attr("fill", "#000").attr("dy", "0.36em");
  }
  if (p.row === 1) {
    const xa = g.append("g").attr("transform", `translate(0,${r.y1})`)
      .call(d3.axisBottom(x).tickValues(xTickLabels).tickSize(0).tickPadding(15).tickFormat(d3.format("d")));
    xa.select(".domain").remove();
    xa.attr("font-size", 37).attr("font-family", serif);
    xa.selectAll("text").attr("fill", "#000");

    const t = svg.append("text").attr("x", (c.x0 + c.x1) / 2 - 2).attr("y", 1168)
      .attr("text-anchor", "middle").attr("font-size", 39);
    t.append("tspan").text("Wavenumber (cm");
    t.append("tspan").attr("font-size", 25).attr("dy", -16).text("-1");
    t.append("tspan").attr("dy", 16).text(")");
  }
  if (p.col === 0) {
    svg.append("text")
      .attr("transform", `translate(44,${(r.y0 + r.y1) / 2 - 35}) rotate(-90)`)
      .attr("text-anchor", "middle").attr("font-size", 39)
      .text("Arbitrary Units");
  }

  svg.append("text").attr("x", c.x0 + 22).attr("y", r.y0 + 48)
    .attr("font-size", 37).text(panelLetters[pi]);
});

// Column titles
svg.append("text").attr("x", 380).attr("y", 73).attr("text-anchor", "middle")
  .attr("font-size", 48).text(molecules[0]);
svg.append("text").attr("x", 1009).attr("y", 70).attr("text-anchor", "middle")
  .attr("font-size", 48).text(molecules[1]);

// Row labels on the right
svg.append("text").attr("transform", "translate(1296,302) rotate(90)")
  .attr("text-anchor", "middle").attr("font-size", 39).attr("font-weight", "bold")
  .text(surfaces[0]);
svg.append("text").attr("transform", "translate(1296,835) rotate(90)")
  .attr("text-anchor", "middle").attr("font-size", 39).attr("font-weight", "bold")
  .text(surfaces[1]);

// Legend (panel C)
const legend = svg.append("g");
speedLabels.forEach((s, k) => {
  const ly = 141 + k * 43.5;
  legend.append("line").attr("x1", 985).attr("x2", 1042).attr("y1", ly).attr("y2", ly)
    .attr("stroke", seriesColors[k]).attr("stroke-width", 1.3);
  const t = legend.append("text").attr("x", 1053).attr("y", ly + 15).attr("font-size", 42);
  t.append("tspan").text(s + " cm s");
  t.append("tspan").attr("font-size", 26).attr("dy", -17).text("-1");
});
</script>
</body>
</html>
